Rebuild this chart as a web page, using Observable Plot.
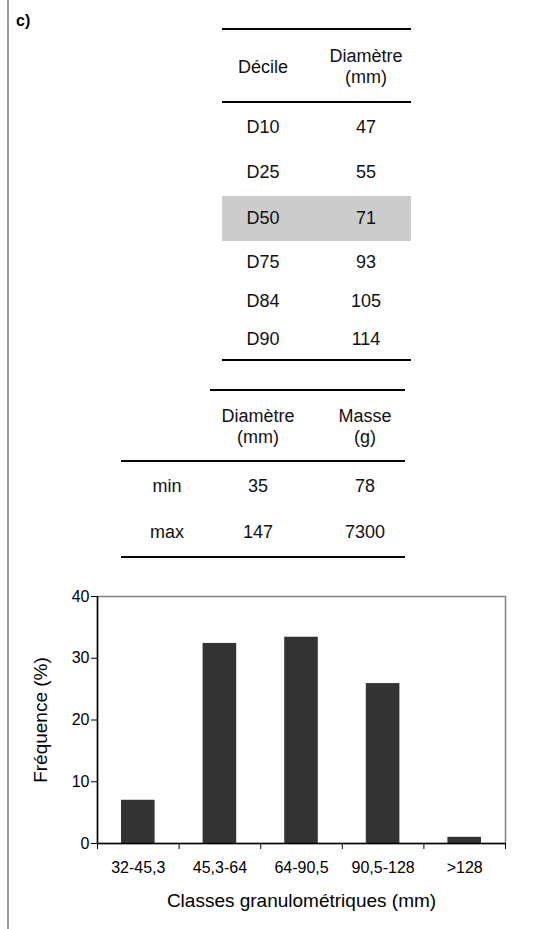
<!DOCTYPE html>
<html>
<head>
<meta charset="utf-8">
<script src="https://cdn.jsdelivr.net/npm/d3@7"></script>
<script src="https://cdn.jsdelivr.net/npm/@observablehq/plot@0.6"></script>
<style>
  html, body { margin: 0; padding: 0; background: #fff; }
  body { font-family: Arial, "Liberation Sans", sans-serif; color: #000; }
  #page { position: relative; width: 550px; height: 929px; overflow: hidden; }
  #vline { position: absolute; left: 7px; top: 0; width: 2px; height: 929px; background: #9a9a9a; }
  #tag { position: absolute; left: 16px; top: 12px; font-size: 16px; font-weight: bold; }
  .hl { position: absolute; height: 2px; background: #000; }
  .cell { position: absolute; font-size: 18px; text-align: center; line-height: 21px; transform: translate(-50%, -50%); white-space: nowrap; color: #111; }
  .band { position: absolute; background: #cccccc; }
  #chart { position: absolute; left: 0; top: 580px; }
</style>
</head>
<body>
<div id="page">
  <div id="vline"></div>
  <div id="tag">c)</div>
  <div id="chart"></div>
</div>
<script>
// ---- data ----
const decileHeader = ["Décile", "Diamètre\n(mm)"];
const deciles = ["D10", "D25", "D50", "D75", "D84", "D90"];
const decileDiam = [47, 55, 71, 93, 105, 114];
const highlighted = "D50";

const statHeader = ["Diamètre\n(mm)", "Masse\n(g)"];
const statLabels = ["min", "max"];
const statDiam = [35, 147];
const statMasse = [78, 7300];

const classes = ["32-45,3", "45,3-64", "64-90,5", "90,5-128", ">128"];
const freq = [7.0, 32.4, 33.4, 25.9, 1.0];
const yTicks = [0, 10, 20, 30, 40];
const xLabel = "Classes granulométriques (mm)";
const yLabel = "Fréquence (%)";

// ---- tables (HTML layout) ----
const page = document.getElementById("page");
function hline(x1, x2, y) {
  const d = document.createElement("div");
  d.className = "hl";
  d.style.left = x1 + "px"; d.style.width = (x2 - x1) + "px"; d.style.top = (y - 1) + "px";
  page.appendChild(d);
}
function cell(text, cx, cy) {
  const d = document.createElement("div");
  d.className = "cell";
  d.style.left = cx + "px"; d.style.top = cy + "px";
  d.innerHTML = String(text).split("\n").join("<br>");
  page.appendChild(d);
}
function band(x1, x2, y1, y2) {
  const d = document.createElement("div");
  d.className = "band";
  d.style.left = x1 + "px"; d.style.width = (x2 - x1) + "px";
  d.style.top = y1 + "px"; d.style.height = (y2 - y1) + "px";
  page.appendChild(d);
}

// table 1
const t1 = {x1: 222, x2: 411, colX: [263, 366], top: 29, headLine: 102, rowY: [127, 172, 218, 262, 301, 339], bottom: 360};
hline(t1.x1, t1.x2, t1.top);
decileHeader.forEach((h, i) => cell(h, t1.colX[i], (t1.top + t1.headLine) / 2 + 1));
hline(t1.x1, t1.x2, t1.headLine);
deciles.forEach((d, i) => {
  if (d === highlighted) band(t1.x1, t1.x2, t1.rowY[i] - 22, t1.rowY[i] + 23);
  cell(d, t1.colX[0], t1.rowY[i]);
  cell(decileDiam[i], t1.colX[1], t1.rowY[i]);
});
hline(t1.x1, t1.x2, t1.bottom);

// table 2
const t2 = {x1: 121, xh: 210, x2: 405, colX: [167, 258, 365], top: 390, headLine: 461, rowY: [486, 532], bottom: 557};
hline(t2.xh, t2.x2, t2.top);
statHeader.forEach((h, i) => cell(h, t2.colX[i + 1], (t2.top + t2.headLine) / 2 + 1));
hline(t2.x1, t2.x2, t2.headLine);
statLabels.forEach((s, i) => {
  cell(s, t2.colX[0], t2.rowY[i]);
  cell(statDiam[i], t2.colX[1], t2.rowY[i]);
  cell(statMasse[i], t2.colX[2], t2.rowY[i]);
});
hline(t2.x1, t2.x2, t2.bottom);

// ---- bar chart (Observable Plot) ----
const rows = classes.map((c, i) => ({cls: c, i, f: freq[i]}));
const chart = Plot.plot({
  width: 550,
  height: 345,
  marginTop: 16,
  marginLeft: 97,
  marginRight: 45,
  marginBottom: 82,
  style: {fontFamily: "Arial, 'Liberation Sans', sans-serif", fontSize: "16px", color: "#000", background: "transparent"},
  x: {domain: [0, classes.length]},
  y: {domain: [0, 40]},
  marks: [
    Plot.frame({stroke: "#808080", strokeWidth: 1.5}),
    Plot.rectY(rows, {x1: d => d.i, x2: d => d.i + 1, y1: 0, y2: "f", fill: "#333333", insetLeft: 24, insetRight: 24}),
    Plot.ruleX([0], {stroke: "#000", strokeWidth: 1.5}),
    Plot.ruleY([0], {stroke: "#000", strokeWidth: 1.5}),
    Plot.axisY({ticks: yTicks, tickSize: 6, tickPadding: 2, label: yLabel, labelAnchor: "center", labelArrow: "none", labelOffset: 64}),
    Plot.axisX({ticks: d3.range(0, classes.length + 1), tickSize: 6, tickFormat: () => "", label: null}),
    Plot.axisX({ticks: classes.map((c, i) => i + 0.5), tickSize: 0, tickPadding: 18, tickFormat: v => classes[Math.floor(v)], label: xLabel, labelAnchor: "center", labelArrow: "none", labelOffset: 63})
  ]
});
document.getElementById("chart").appendChild(chart);
// font sizes of axis texts
chart.querySelectorAll("g[aria-label='y-axis tick label'], g[aria-label='x-axis tick label']").forEach(g => g.setAttribute("font-size", "16px"));
chart.querySelectorAll("g[aria-label='y-axis label'], g[aria-label='x-axis label']").forEach(g => g.setAttribute("font-size", "19px"));
</script>
</body>
</html>
